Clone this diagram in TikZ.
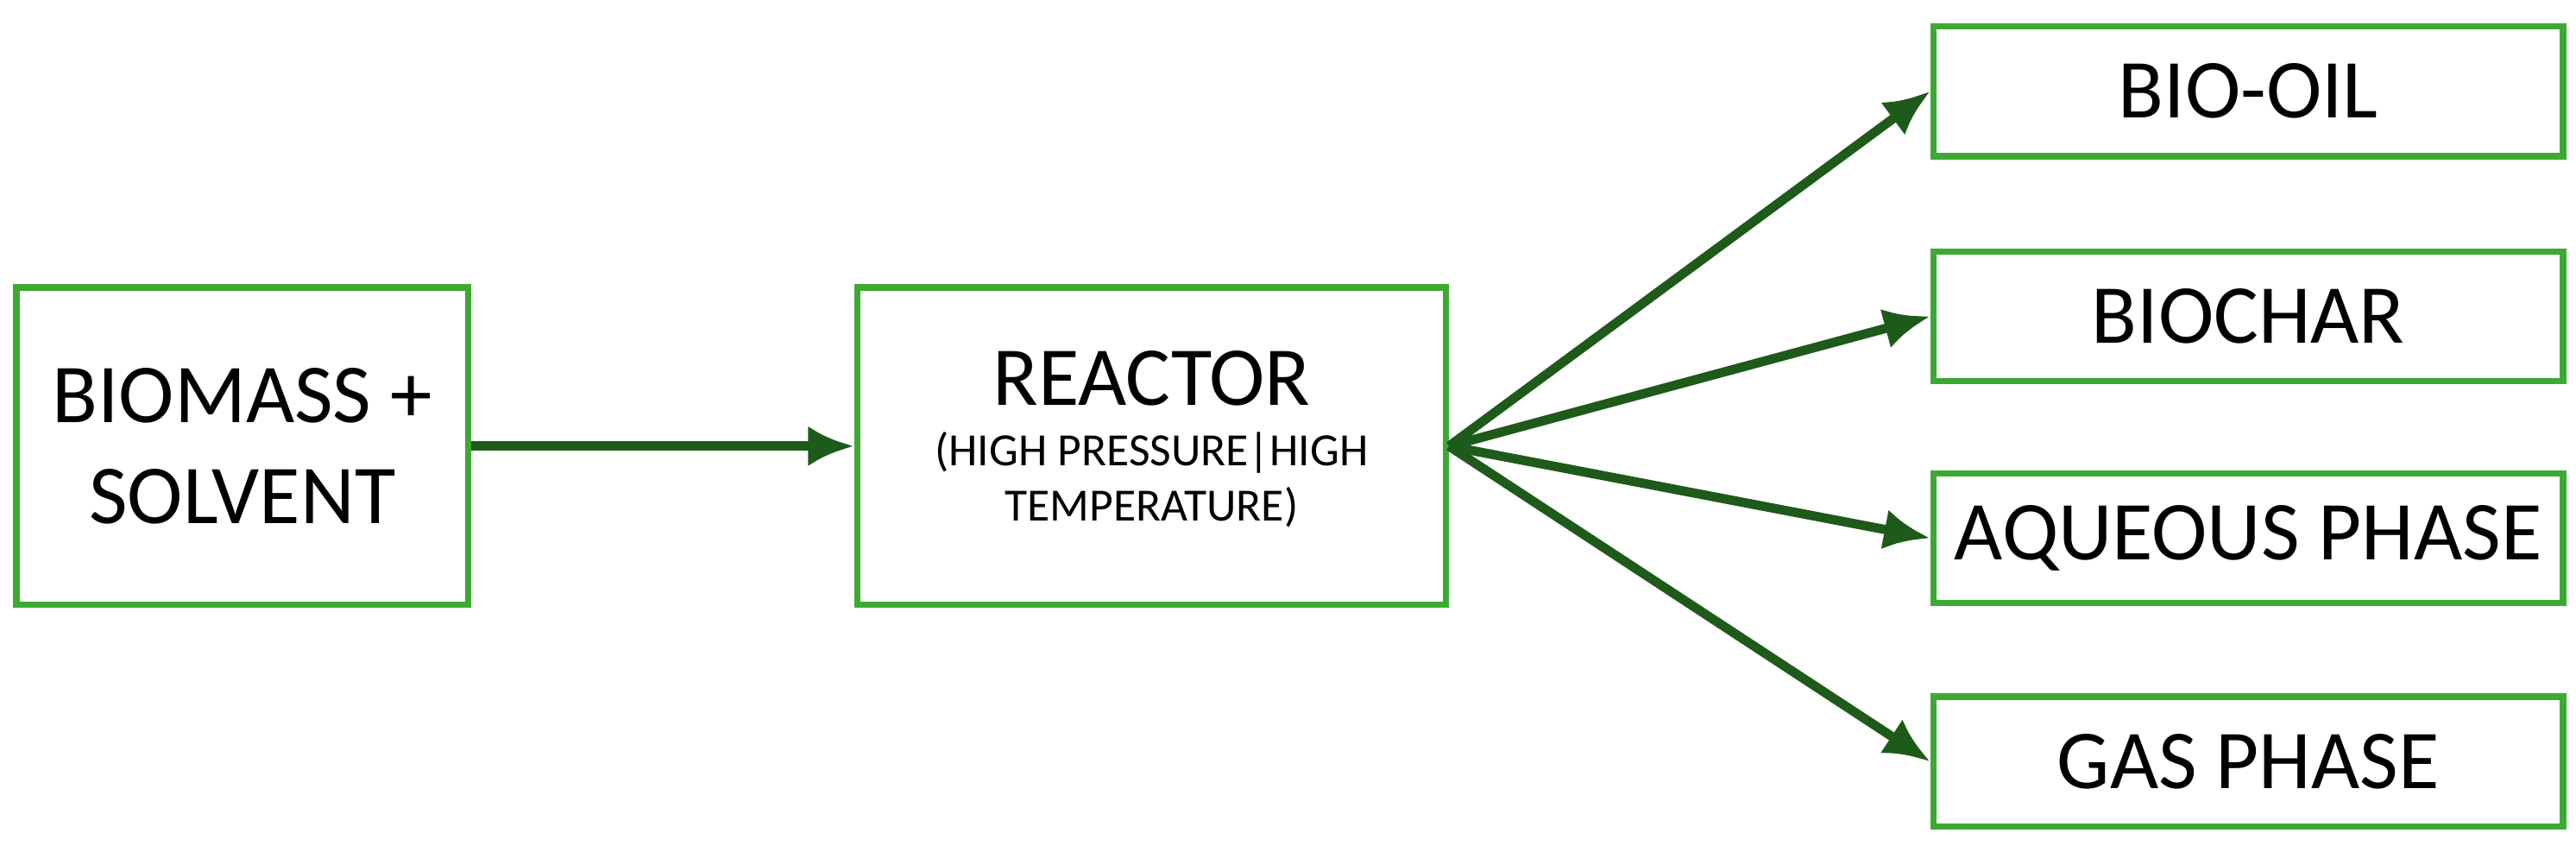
\documentclass[tikz,border=0pt]{standalone}
\usepackage{fontspec}
\setmainfont{Carlito}
\usetikzlibrary{arrows.meta}
\begin{document}
\begin{tikzpicture}[x=0.01cm,y=-0.01cm,
  box/.style={draw={rgb,255:red,60;green,170;blue,50},line width=1.1pt,inner sep=0pt,align=center,font=\fontsize{14.5}{17.5}\selectfont},
  arr/.style={draw={rgb,255:red,30;green,90;blue,25},line width=1.6pt,-{Latex[length=8pt,width=7pt]}}]
\useasboundingbox (0,0) rectangle (1568,518);
\node[box,minimum width=2.75cm,minimum height=1.93cm] (bio) at (147.5,271.5) {BIOMASS +\\SOLVENT};
\node[box,minimum width=3.58cm,minimum height=1.93cm] (re) at (701,271.5) {};
\node[align=center,font=\fontsize{14.5}{17.5}\selectfont] (ret) at (701,230) {REACTOR};
\node[align=center,font=\fontsize{8}{9.5}\selectfont] (res) at (701,292) {(HIGH PRESSURE|HIGH\\TEMPERATURE)};
\node[box,minimum width=3.83cm,minimum height=0.79cm] (o1) at (1368.5,55.5) {BIO-OIL};
\node[box,minimum width=3.83cm,minimum height=0.79cm] (o2) at (1368.5,192.5) {BIOCHAR};
\node[box,minimum width=3.83cm,minimum height=0.79cm] (o3) at (1368.5,327.5) {AQUEOUS PHASE};
\node[box,minimum width=3.83cm,minimum height=0.79cm] (o4) at (1368.5,463.5) {GAS PHASE};
\draw[arr] (bio.east) -- (re.west);
\foreach \o in {o1,o2,o3,o4} \draw[arr] (re.east) -- (\o.west);
\end{tikzpicture}
\end{document}
